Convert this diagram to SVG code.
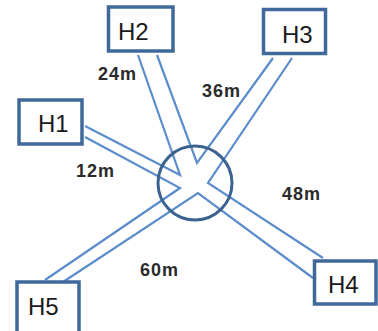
<svg xmlns="http://www.w3.org/2000/svg" width="378" height="331" viewBox="0 0 378 331">
<style>
.box{fill:#fff;stroke:#41689a;stroke-width:3.5}
.hl{font-family:"Liberation Sans",Arial,sans-serif;font-size:24px;fill:#1a1a1a}
.pipe{fill:none;stroke:#5b8ccb;stroke-width:2.2;stroke-linejoin:miter}
.lbl{font-family:"Liberation Sans",Arial,sans-serif;font-size:18px;font-weight:bold;fill:#2b2b2b;letter-spacing:1px}
</style>
<rect width="378" height="331" fill="#fff"/>
<g id="connectors">
<polyline class="pipe" points="85,126 180,175 138,55"/>
<polyline class="pipe" points="157,55 197,163 273,58"/>
<polyline class="pipe" points="292,58 208,183 323,258"/>
<polyline class="pipe" points="313,278 198,193 63,282"/>
<polyline class="pipe" points="45,280 180,188 85,137"/>
<circle cx="195" cy="183" r="37" fill="none" stroke="#3b6290" stroke-width="3"/>
<text class="lbl" x="98" y="80">24m</text>
<text class="lbl" x="202" y="97">36m</text>
<text class="lbl" x="76" y="177">12m</text>
<text class="lbl" x="282" y="200">48m</text>
<text class="lbl" x="140" y="276">60m</text>
</g>
<g id="H1"><rect class="box" x="19" y="100" width="63" height="44"/><text class="hl" x="38" y="132">H1</text></g>
<g id="H2"><rect class="box" x="108.5" y="7" width="64.5" height="44"/><text class="hl" x="118" y="40">H2</text></g>
<g id="H3"><rect class="box" x="263.5" y="9.5" width="62" height="44"/><text class="hl" x="282" y="43">H3</text></g>
<g id="H4"><rect class="box" x="314.5" y="261" width="61.5" height="43"/><text class="hl" x="328" y="293">H4</text></g>
<g id="H5"><rect class="box" x="17" y="282" width="62" height="52"/><text class="hl" x="28" y="315">H5</text></g>
</svg>
